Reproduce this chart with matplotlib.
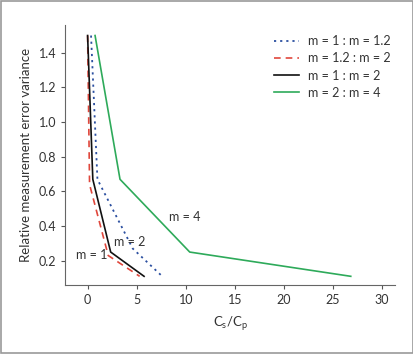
import matplotlib
matplotlib.use("Agg")
import matplotlib.pyplot as plt
from matplotlib.patches import Rectangle

plt.rcParams['font.family'] = ['Lato', 'DejaVu Sans']

y_levels = [1.5, 0.67, 0.25, 0.11]
x_m1_m12 = [0.35, 1.0, 4.6, 7.6]
y_m1_m12 = [1.5, 0.67, 0.27, 0.11]
x_m12_m2 = [0.0, 0.2, 2.1, 5.3]
y_m12_m2 = [1.5, 0.64, 0.23, 0.11]
x_m1_m2 = [0.0, 0.53, 2.35, 5.75]
x_m2_m4 = [0.76, 3.3, 10.4, 26.8]
labels = ["m = 1 : m = 1.2", "m = 1.2 : m = 2", "m = 1 : m = 2", "m = 2 : m = 4"]
xticks = [0, 5, 10, 15, 20, 25, 30]
yticks = [0.2, 0.4, 0.6, 0.8, 1.0, 1.2, 1.4]

fig = plt.figure(figsize=(4.14, 3.54), dpi=100)
fig.patches.append(Rectangle((0.002, 0.003), 0.995, 0.994, transform=fig.transFigure,
                             fill=False, edgecolor='#999999', linewidth=1.2))
ax = fig.add_axes([0.158, 0.195, 0.796, 0.734])

ax.plot(x_m1_m12, y_m1_m12, color='#2b4fa0', linestyle=(0, (1.2, 2.2)), linewidth=1.3, label=labels[0])
ax.plot(x_m12_m2, y_m12_m2, color='#e0473c', linestyle=(0, (4, 3)), linewidth=1.2, label=labels[1])
ax.plot(x_m1_m2, y_levels, color='#111111', linewidth=1.2, label=labels[2])
ax.plot(x_m2_m4, y_levels, color='#2eaa5a', linewidth=1.2, label=labels[3])

ax.text(9.9, 0.45, "m = 4", fontsize=9, ha='center', va='center', color='#333333')
ax.text(4.3, 0.31, "m = 2", fontsize=9, ha='center', va='center', color='#333333')
ax.text(0.4, 0.232, "m = 1", fontsize=9, ha='center', va='center', color='#333333')

ax.set_xlim(-2.26, 31.3)
ax.set_ylim(0.06, 1.56)
ax.set_xticks(xticks)
ax.set_yticks(yticks)
ax.set_yticklabels([f"{v:.1f}" for v in yticks])
ax.tick_params(direction='out', length=3, width=0.8, colors='#555555', labelsize=9, labelcolor='#333333')
for s in ['top', 'right']:
    ax.spines[s].set_visible(False)
for s in ['left', 'bottom']:
    ax.spines[s].set_color('#666666')
    ax.spines[s].set_linewidth(0.8)

ax.set_xlabel(r"C$_\mathregular{s}$/C$_\mathregular{p}$", fontsize=9.5, color='#333333', labelpad=6)
ax.set_ylabel("Relative measurement error variance", fontsize=9.5, color='#333333', labelpad=5)

leg = ax.legend(loc='upper right', frameon=False, fontsize=9, handlelength=2.0,
                handletextpad=0.7, labelspacing=0.42, bbox_to_anchor=(1.02, 1.005))
for t in leg.get_texts():
    t.set_color('#333333')

fig.savefig("out.png", dpi=100)
